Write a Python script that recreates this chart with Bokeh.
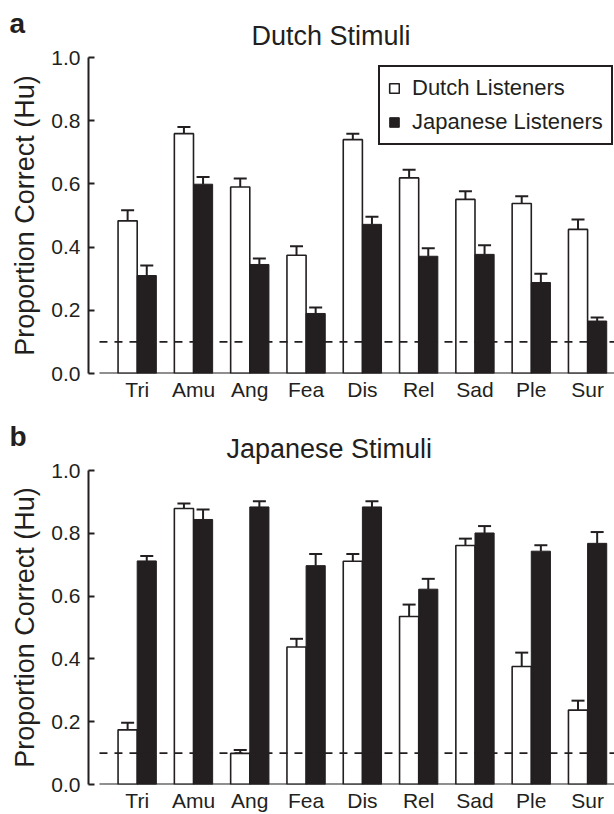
from bokeh.plotting import figure
from bokeh.models import (ColumnDataSource, Range1d, FixedTicker, PrintfTickFormatter,
                          Whisker, TeeHead, Legend, LegendItem, Title)
from bokeh.transform import dodge
from bokeh.layouts import column
from bokeh.embed import file_html
from bokeh.resources import INLINE

# ---------------- data ----------------
categories = ["Tri", "Amu", "Ang", "Fea", "Dis", "Rel", "Sad", "Ple", "Sur"]
chance_level = 0.1

# Panel a: Dutch stimuli
dutch_stim_dutch_listeners = [0.483, 0.759, 0.590, 0.374, 0.740, 0.619, 0.551, 0.538, 0.456]
dutch_stim_dutch_err = [0.034, 0.021, 0.027, 0.029, 0.019, 0.026, 0.026, 0.023, 0.031]
dutch_stim_japanese_listeners = [0.310, 0.599, 0.345, 0.190, 0.472, 0.371, 0.377, 0.288, 0.166]
dutch_stim_japanese_err = [0.032, 0.023, 0.019, 0.019, 0.024, 0.025, 0.029, 0.028, 0.011]

# Panel b: Japanese stimuli
jap_stim_dutch_listeners = [0.174, 0.879, 0.099, 0.438, 0.711, 0.535, 0.761, 0.376, 0.237]
jap_stim_dutch_err = [0.023, 0.016, 0.011, 0.026, 0.023, 0.038, 0.022, 0.044, 0.030]
jap_stim_japanese_listeners = [0.712, 0.844, 0.884, 0.697, 0.884, 0.622, 0.801, 0.743, 0.768]
jap_stim_japanese_err = [0.016, 0.032, 0.018, 0.037, 0.018, 0.033, 0.022, 0.019, 0.036]

y_ticks = [0.0, 0.2, 0.4, 0.6, 0.8, 1.0]
series_names = ["Dutch Listeners", "Japanese Listeners"]

# ---------------- style ----------------
INK = "#231f20"
FONT = "Liberation Sans"
X_START, X_END = -0.865, 8.478
BASE_START = -0.67
BAR_W = 0.34
FRAME_H = 316
FIG_W = 614


def make_panel(letter, title, title_offset, dutch, dutch_err, jap, jap_err,
               top, bottom, with_legend):
    x = list(range(len(categories)))
    src = ColumnDataSource(dict(
        x=x,
        d=dutch, d_hi=[v + e for v, e in zip(dutch, dutch_err)],
        j=jap, j_hi=[v + e for v, e in zip(jap, jap_err)],
    ))
    p = figure(width=FIG_W, height=top + FRAME_H + bottom, output_backend="svg",
               toolbar_location=None,
               x_range=Range1d(X_START, X_END), y_range=Range1d(0, 1.0),
               min_border_left=88, min_border_right=0,
               min_border_top=top, min_border_bottom=bottom)
    p.xgrid.visible = False
    p.ygrid.visible = False
    p.outline_line_color = None
    p.background_fill_color = "white"
    p.border_fill_color = "white"
    p.title.visible = False

    r_d = p.vbar(x=dodge("x", -BAR_W / 2), top="d", bottom=0, width=BAR_W, source=src,
                 fill_color="white", line_color=INK, line_width=1.6)
    r_j = p.vbar(x=dodge("x", BAR_W / 2), top="j", bottom=0, width=BAR_W, source=src,
                 fill_color=INK, line_color=INK, line_width=1)

    # chance level (dashed) and x baseline
    p.segment(x0=BASE_START, x1=X_END, y0=chance_level, y1=chance_level,
              line_color=INK, line_width=1.6, line_dash="8 7")
    p.segment(x0=BASE_START, x1=X_END, y0=0, y1=0, line_color=INK, line_width=2)

    for base, lo, hi in ((dodge("x", -BAR_W / 2), "d", "d_hi"), (dodge("x", BAR_W / 2), "j", "j_hi")):
        w = Whisker(source=src, base=base, lower=lo, upper=hi,
                    line_color=INK, line_width=2, lower_head=None,
                    upper_head=TeeHead(size=13, line_color=INK, line_width=2))
        p.add_layout(w)

    xa = p.xaxis[0]
    xa.ticker = FixedTicker(ticks=x)
    xa.major_label_overrides = {i: c for i, c in zip(x, categories)}
    xa.axis_line_color = None
    xa.major_tick_line_color = None
    xa.major_tick_in = 0
    xa.major_tick_out = 0
    xa.minor_tick_line_color = None
    xa.minor_tick_out = 0
    xa.major_label_standoff = 4
    xa.major_label_text_font = FONT
    xa.major_label_text_font_size = "21px"
    xa.major_label_text_color = INK

    ya = p.yaxis[0]
    ya.ticker = FixedTicker(ticks=y_ticks)
    ya.formatter = PrintfTickFormatter(format="%.1f")
    ya.axis_label = "Proportion Correct (Hu)"
    ya.axis_label_text_font = FONT
    ya.axis_label_text_font_size = "27px"
    ya.axis_label_text_font_style = "normal"
    ya.axis_label_text_color = INK
    ya.axis_label_standoff = 8
    ya.major_label_text_font = FONT
    ya.major_label_text_font_size = "21px"
    ya.major_label_text_color = INK
    ya.major_label_standoff = 8
    ya.axis_line_color = INK
    ya.axis_line_width = 2
    ya.major_tick_in = 6
    ya.major_tick_out = 0
    ya.major_tick_line_color = INK
    ya.major_tick_line_width = 2
    ya.minor_tick_line_color = None

    # title (nearest the frame) and panel letter (outer row, pulled down to overlap)
    p.add_layout(Title(text=title, text_font=FONT, text_font_size="27px",
                       text_font_style="normal", text_color=INK, align="left",
                       offset=title_offset, standoff=13, vertical_align="bottom"), "above")
    p.add_layout(Title(text=letter, text_font=FONT, text_font_size="28px",
                       text_font_style="bold", text_color=INK, align="left",
                       offset=-79, standoff=-52, vertical_align="bottom"), "above")

    if with_legend:
        legend = Legend(items=[LegendItem(label=series_names[0], renderers=[r_d]),
                               LegendItem(label=series_names[1], renderers=[r_j])],
                        location=(290, FRAME_H - 11 - 77))
        legend.margin = 0
        legend.padding = 8
        legend.spacing = 8
        legend.glyph_width = 12
        legend.glyph_height = 12
        legend.label_height = 24
        legend.label_standoff = 12
        legend.label_text_font = FONT
        legend.label_text_font_size = "22px"
        legend.label_text_color = INK
        legend.border_line_color = INK
        legend.border_line_alpha = 1.0
        legend.border_line_width = 2
        legend.background_fill_color = "white"
        legend.background_fill_alpha = 1
        p.add_layout(legend)
    return p


pa = make_panel("a", "Dutch Stimuli", 163, dutch_stim_dutch_listeners, dutch_stim_dutch_err,
                dutch_stim_japanese_listeners, dutch_stim_japanese_err, 57, 40, True)
pb = make_panel("b", "Japanese Stimuli", 138, jap_stim_dutch_listeners, jap_stim_dutch_err,
                jap_stim_japanese_listeners, jap_stim_japanese_err, 57, 28, False)

layout = column(pa, pb)
open("out.html", "w").write(file_html(layout, INLINE))
